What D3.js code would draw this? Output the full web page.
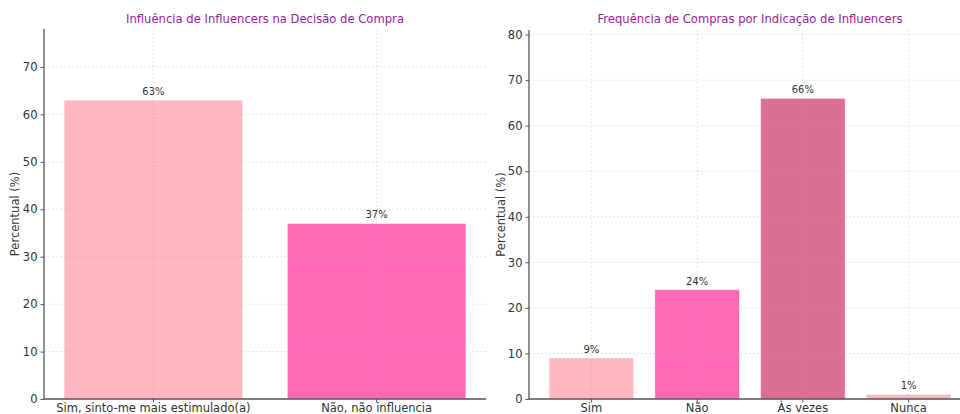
<!DOCTYPE html>
<html>
<head>
<meta charset="utf-8">
<script src="https://cdn.jsdelivr.net/npm/d3@7"></script>
<style>
  html, body { margin: 0; padding: 0; background: #fff; }
  svg { display: block; font-family: "DejaVu Sans", sans-serif; }
</style>
</head>
<body>
<svg id="chart" width="960" height="414"></svg>
<script>
// Panel 1: influence on purchase decision
const influenceCategories = ["Sim, sinto-me mais estimulado(a)", "Não, não influencia"];
const influenceValues = [63, 37];
const influenceColors = ["#FFB6C1", "#FF69B4"];
const influenceTicks = [0, 10, 20, 30, 40, 50, 60, 70];

// Panel 2: purchase frequency from influencer recommendations
const frequencyCategories = ["Sim", "Não", "Às vezes", "Nunca"];
const frequencyValues = [9, 24, 66, 1];
const frequencyColors = ["#FFB6C1", "#FF69B4", "#DB7093", "#FFB6C1"];
const frequencyTicks = [0, 10, 20, 30, 40, 50, 60, 70, 80];

const svg = d3.select("#chart");

function drawPanel(cfg) {
  const g = svg.append("g");
  const x = d3.scaleBand()
    .domain(cfg.categories)
    .range([cfg.left, cfg.right])
    .paddingInner(0.2)
    .paddingOuter(cfg.outer);
  const y = d3.scaleLinear().domain([0, cfg.yMax]).range([cfg.bottom, cfg.top]);

  // bars
  g.selectAll("rect.bar")
    .data(cfg.values)
    .join("rect")
    .attr("class", "bar")
    .attr("x", (d, i) => x(cfg.categories[i]))
    .attr("width", x.bandwidth())
    .attr("y", d => y(d))
    .attr("height", d => y(0) - y(d))
    .attr("fill", (d, i) => cfg.colors[i])
    .attr("stroke", "#fff")
    .attr("stroke-opacity", 0.6)
    .attr("stroke-width", 0.8);

  // grid (drawn over the bars)
  const grid = g.append("g").attr("stroke", "#b0b0b0").attr("stroke-opacity", 0.45)
    .attr("stroke-width", 0.7).attr("stroke-dasharray", "2,2");
  grid.selectAll("line.h")
    .data(cfg.ticks)
    .join("line")
    .attr("x1", cfg.left).attr("x2", cfg.right)
    .attr("y1", d => y(d)).attr("y2", d => y(d));
  grid.selectAll("line.v")
    .data(cfg.categories)
    .join("line")
    .attr("x1", d => x(d) + x.bandwidth() / 2).attr("x2", d => x(d) + x.bandwidth() / 2)
    .attr("y1", cfg.top).attr("y2", cfg.bottom);

  // value labels
  g.selectAll("text.val")
    .data(cfg.values)
    .join("text")
    .attr("x", (d, i) => x(cfg.categories[i]) + x.bandwidth() / 2)
    .attr("y", d => y(d) - 5)
    .attr("text-anchor", "middle")
    .attr("font-size", 10)
    .attr("fill", "#333")
    .text(d => d + "%");

  // y axis
  const yAxis = g.append("g")
    .attr("transform", `translate(${cfg.left},0)`)
    .call(d3.axisLeft(y).tickValues(cfg.ticks).tickSize(3.5).tickPadding(3));
  yAxis.select(".domain").attr("stroke", "#555").attr("stroke-width", 1.3)
    .attr("d", `M0,${cfg.top}V${cfg.bottom}`);
  yAxis.selectAll(".tick line").attr("stroke", "#555");
  yAxis.selectAll(".tick text").attr("font-size", 11.5).attr("fill", "#333")
    .attr("font-family", "DejaVu Sans");

  // x axis
  const xAxis = g.append("g")
    .attr("transform", `translate(0,${cfg.bottom})`)
    .call(d3.axisBottom(x).tickSize(3.5).tickPadding(1));
  xAxis.select(".domain").attr("stroke", "#555").attr("stroke-width", 1.3)
    .attr("d", `M${cfg.left},0H${cfg.right}`);
  xAxis.selectAll(".tick line").attr("stroke", "#555");
  xAxis.selectAll(".tick text").attr("font-size", 11.5).attr("fill", "#333")
    .attr("font-family", "DejaVu Sans");

  // y label
  g.append("text")
    .attr("transform", `translate(${cfg.ylabelX},${(cfg.top + cfg.bottom) / 2}) rotate(-90)`)
    .attr("text-anchor", "middle")
    .attr("dominant-baseline", "middle")
    .attr("font-size", 11.5)
    .attr("fill", "#333")
    .text("Percentual (%)");

  // title
  g.append("text")
    .attr("x", cfg.titleX)
    .attr("y", 23)
    .attr("text-anchor", "middle")
    .attr("font-size", 11.6)
    .attr("fill", "#9b1b9b")
    .text(cfg.title);
}

drawPanel({
  categories: influenceCategories, values: influenceValues, colors: influenceColors,
  ticks: influenceTicks, yMax: 78, outer: 0.09,
  left: 44, right: 486, top: 29, bottom: 399, ylabelX: 15, titleX: 265,
  title: "Influência de Influencers na Decisão de Compra"
});

drawPanel({
  categories: frequencyCategories, values: frequencyValues, colors: frequencyColors,
  ticks: frequencyTicks, yMax: 81, outer: 0.19,
  left: 529, right: 971, top: 30, bottom: 399, ylabelX: 501, titleX: 750,
  title: "Frequência de Compras por Indicação de Influencers"
});
</script>
</body>
</html>
